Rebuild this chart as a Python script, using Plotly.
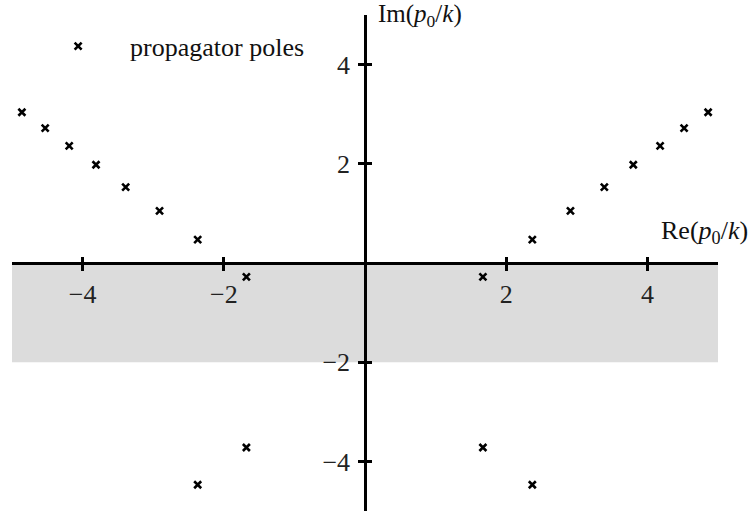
import plotly.graph_objects as go

# Pole locations in the complex p0/k plane
re_left = [-4.86, -4.53, -4.19, -3.81, -3.39, -2.91, -2.37, -1.68, -1.68, -2.37]
im_left = [3.04, 2.72, 2.36, 1.98, 1.53, 1.05, 0.47, -0.28, -3.72, -4.47]
re_right = [4.86, 4.52, 4.18, 3.80, 3.39, 2.91, 2.37, 1.67, 1.67, 2.37]
im_right = [3.04, 2.72, 2.36, 1.98, 1.53, 1.05, 0.47, -0.28, -3.72, -4.47]

tick_vals = [-4, -2, 2, 4]
tick_text = ["\u22124", "\u22122", "2", "4"]

x_range = [-5, 5]
y_range = [-5, 5]
band = (-2, 0)  # shaded strip in Im(p0/k)

FONT = "Liberation Serif"
INK = "black"

fig = go.Figure()
fig.add_trace(go.Scatter(
    x=re_left + re_right,
    y=im_left + im_right,
    mode="markers",
    name="propagator poles",
    marker=dict(symbol="x-thin", size=7, color=INK,
                line=dict(width=2.6, color=INK)),
))

fig.add_shape(type="rect", xref="x", yref="y",
              x0=x_range[0], x1=x_range[1], y0=band[0], y1=band[1],
              fillcolor="#dcdcdc", line=dict(width=0), layer="below")

axis_common = dict(showgrid=False, zeroline=False, tickvals=tick_vals,
                   ticktext=tick_text, ticklen=6, tickwidth=2.5,
                   tickcolor=INK, tickfont=dict(family=FONT, size=26, color="#222"))

fig.update_layout(
    width=752, height=516,
    margin=dict(l=12, r=34, t=15, b=5),
    paper_bgcolor="white", plot_bgcolor="white",
    font=dict(family=FONT, color=INK),
    xaxis=dict(range=x_range, domain=[0, 1], anchor="free", position=0.5,
               showline=True, linewidth=2.5, linecolor=INK, ticks="outside",
               ticklabelstandoff=1, **axis_common),
    yaxis=dict(range=y_range, domain=[0, 1], anchor="free", position=0.5,
               showline=True, linewidth=2.5, linecolor=INK, ticks="outside",
               ticklabelstandoff=3, **axis_common),
    xaxis2=dict(range=x_range, domain=[0, 1], overlaying="x", anchor="free",
                position=0.5, ticks="inside", showticklabels=False,
                showline=False, **axis_common),
    yaxis2=dict(range=y_range, domain=[0, 1], overlaying="y", anchor="free",
                position=0.5, ticks="inside", showticklabels=False,
                showline=False, **axis_common),
    showlegend=True,
    legend=dict(x=0.02, y=0.937, xanchor="left", yanchor="middle",
                itemwidth=94, bgcolor="rgba(0,0,0,0)",
                font=dict(family=FONT, size=26, color="#111")),
    annotations=[
        dict(text="Im(<i>p</i><sub>0</sub>/<i>k</i>)", x=0, xref="x",
             y=1, yref="paper", xanchor="left", yanchor="middle",
             xshift=11, yshift=0, showarrow=False,
             font=dict(family=FONT, size=25, color="#111")),
        dict(text="Re(<i>p</i><sub>0</sub>/<i>k</i>)", x=1, xref="paper",
             y=0, yref="y", xanchor="right", yanchor="middle",
             xshift=32, yshift=31, showarrow=False,
             font=dict(family=FONT, size=26, color="#111")),
    ],
)

# empty traces so the overlay axes (tick marks on the opposite side) are drawn
fig.add_trace(go.Scatter(x=[], y=[], xaxis="x2", yaxis="y2",
                         showlegend=False, hoverinfo="skip"))

fig.write_html("out.html")
